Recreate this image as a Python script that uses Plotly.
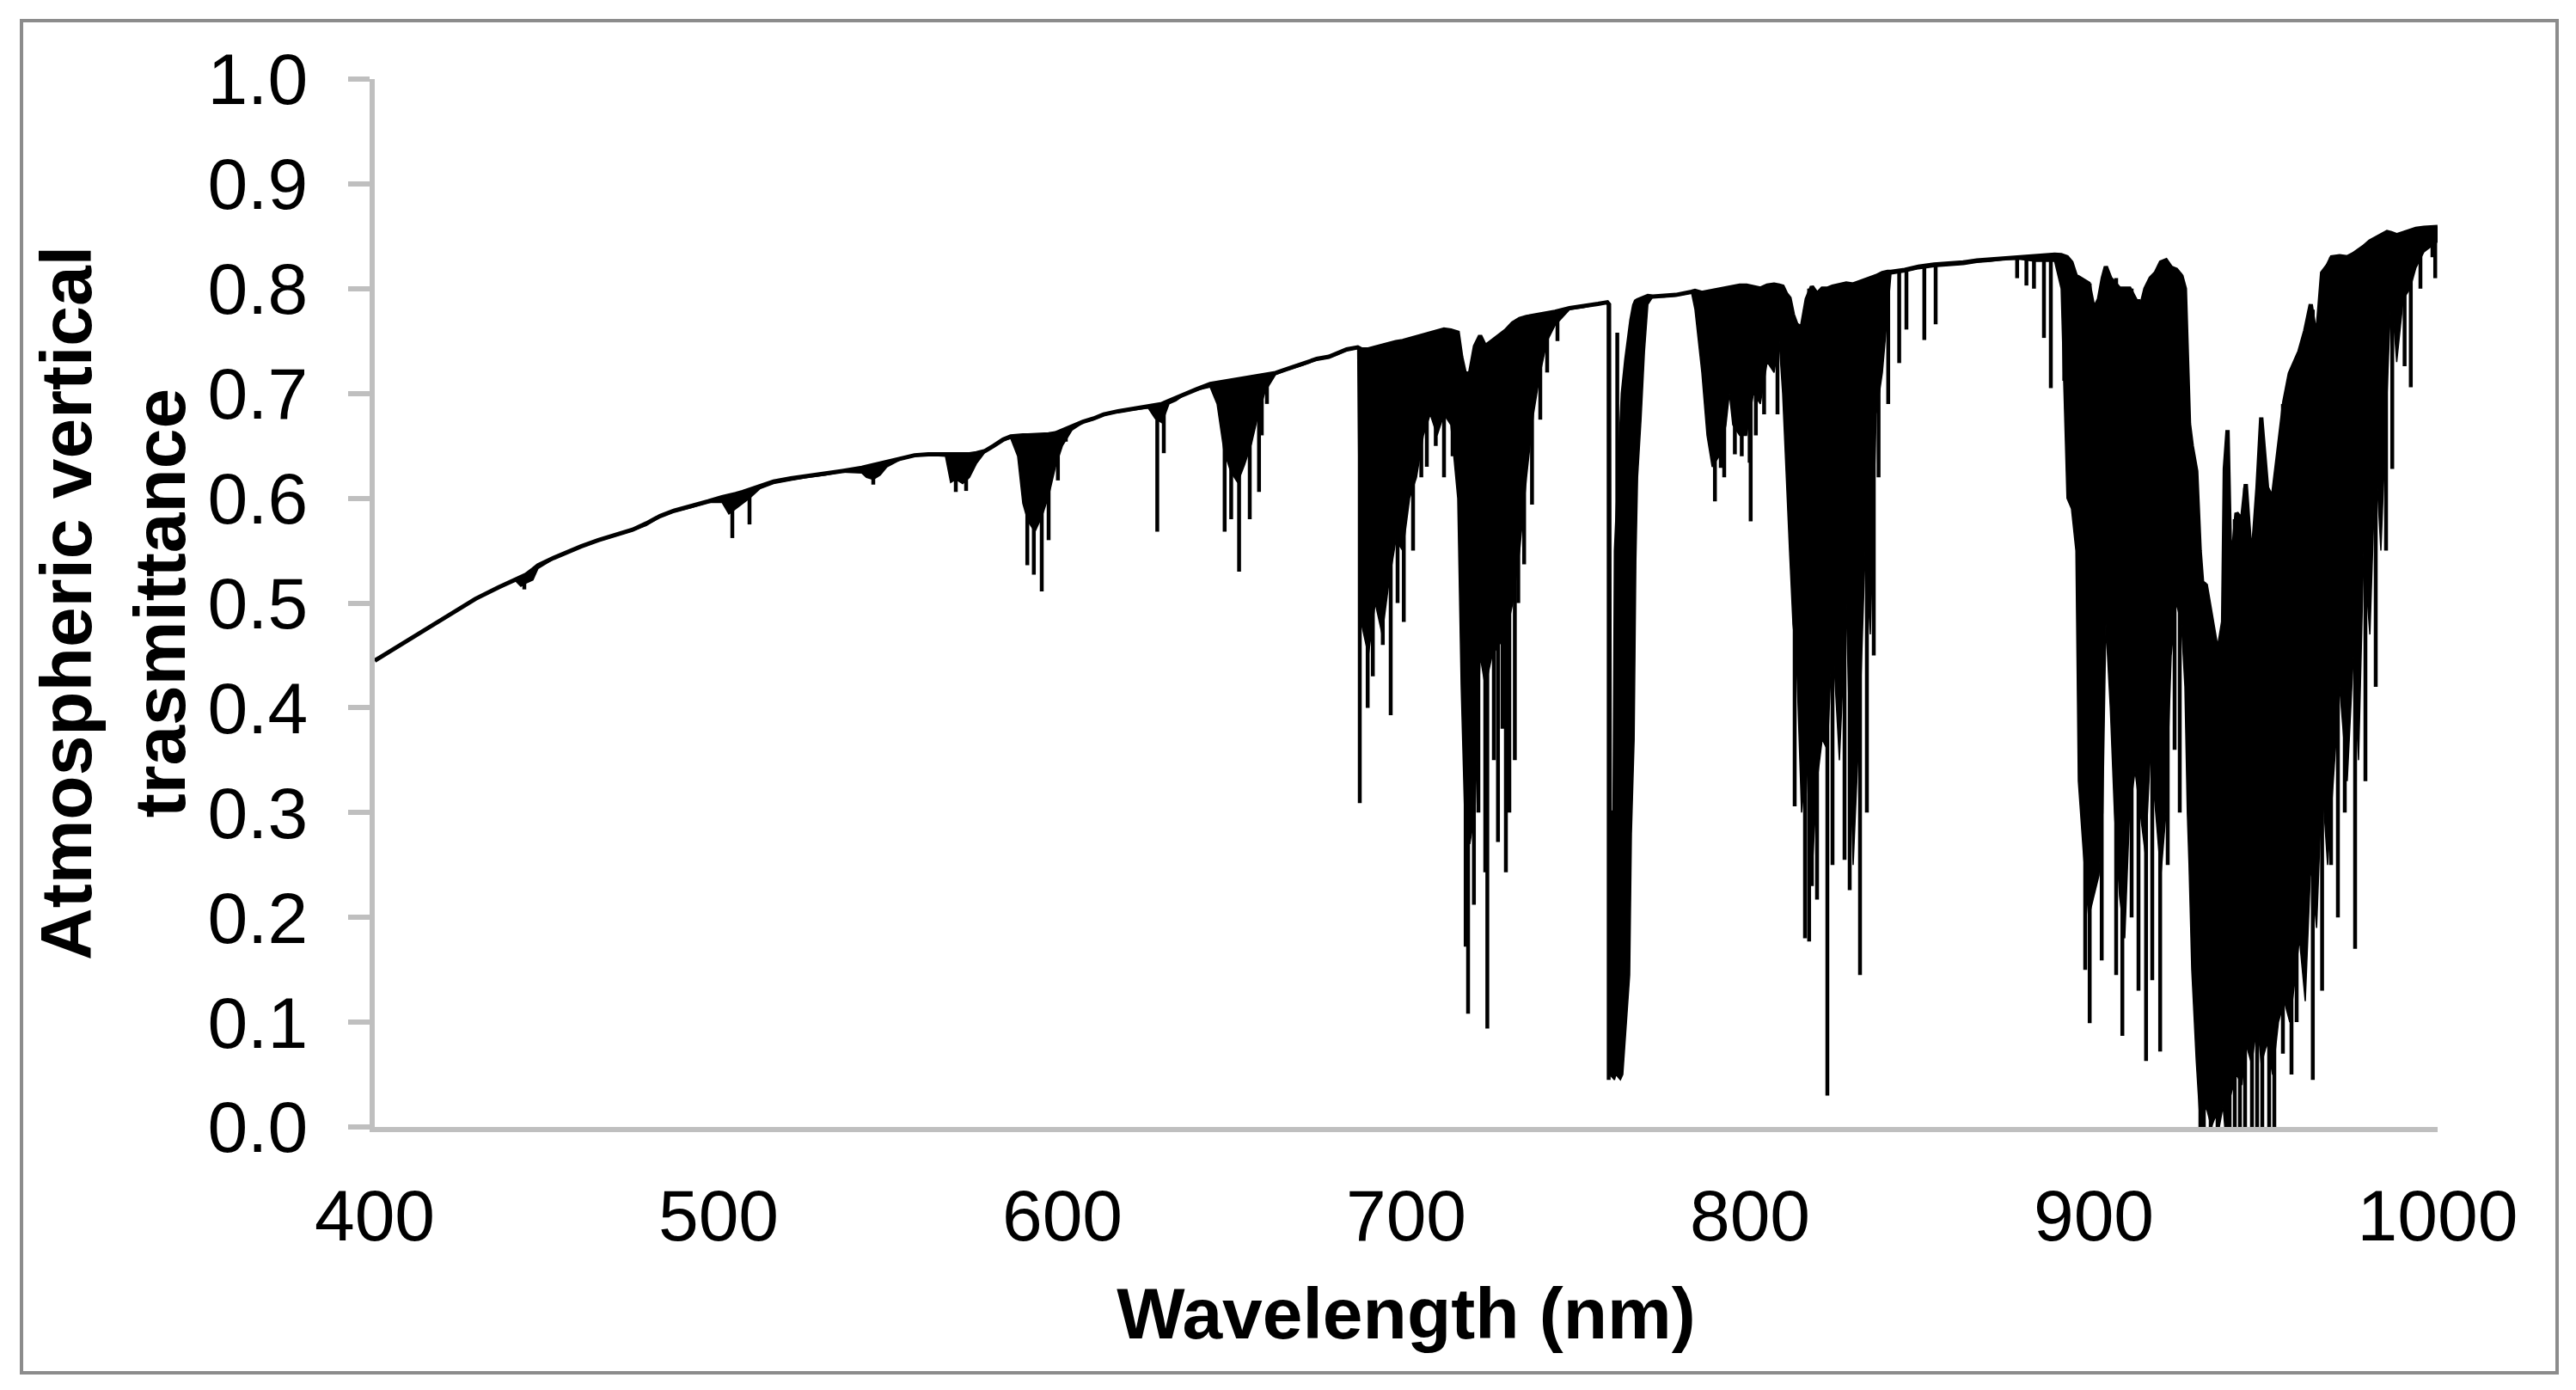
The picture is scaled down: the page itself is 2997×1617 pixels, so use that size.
import plotly.graph_objects as go

# ---------------- data ----------------
# wavelength grid (nm), upper edge of the spectrum, lower edge of the dense (solid) absorption core
wavelength = [400, 405, 410, 416.5, 423, 429.3, 436, 441, 442.5, 444, 446, 447.5, 452, 456, 460, 465, 470, 475,
              479, 483, 487, 492, 497, 501, 503, 505, 507, 509, 512, 516, 521, 526, 531, 536, 541.7, 543, 545, 547,
              549, 553, 557, 561, 566, 567.5, 569, 571, 573, 575, 577.5, 580, 582.8, 585, 587, 588.5, 590, 592, 594,
              596, 598, 600, 602.8, 606, 609, 612, 616.2, 620, 625, 627, 629, 631, 633, 635.2, 639, 643, 645, 647,
              649, 651, 653, 655, 657, 659, 662, 666, 670, 674, 677.5, 680, 682.7, 685.9, 686.3, 687, 689, 691, 693,
              695, 697, 699, 701, 703, 705, 707, 709, 711, 713, 715, 716, 717, 718.5, 720, 721.5, 723, 725, 727, 729,
              731, 733, 735, 737, 739, 741, 743.3, 747.5, 751.6, 755.8, 758.5, 759.0, 759.2, 760.6, 761.0, 762.3,
              763.0, 764.0, 765.0, 765.5, 766.3, 766.8, 767.3, 768.3, 769.3, 770.3, 771.7, 775, 778.4, 783, 784, 786,
              787.5, 789, 791, 793, 794, 795, 797, 799, 801, 803, 805, 807, 808.5, 809.5, 810.5, 811.5, 812.5, 813.5,
              815, 816.5, 818, 819.5, 821, 822.5, 824, 826, 828, 830, 832, 833.5, 835, 836.7, 838.5, 840, 841, 845,
              849, 853.5, 858, 862, 866, 870, 874.5, 878.7, 883, 888.6, 890.5, 892.2, 893.5, 894.8, 895.5, 897,
              898.5, 900, 901.5, 902.6, 903.5, 904.8, 906, 907.5, 909, 910.4, 912, 913.5, 915, 916.5, 918, 919.5,
              921, 922.5, 924, 925.5, 926.5, 927.2, 927.7, 928.5, 929.8, 930.8, 931.5, 932.6, 934.2, 935.4, 936.5,
              937.6, 938.1, 938.9, 939.8, 941.5, 943.1, 944.2, 945.9, 947.6, 948.7, 950.4, 952, 953.7, 955.4, 957,
              958.5, 959.8, 961.5, 963.1, 964.8, 966.4, 968, 969.2, 971.5, 973.7, 975.5, 977, 978.5, 980.3, 982,
              983.5, 985.3, 986.5, 988.1, 990, 992, 993.7, 996, 998, 1000]

upper = [.445, .455, .466, .479, .492, .504, .515, .522, .525, .527, .532, .536, .543, .549, .554, .560, .565, .570,
         .576, .583, .588, .592, .597, .601, .602, .604, .606, .608, .612, .616, .619, .621, .623, .626, .629, .630,
         .631, .633, .634, .638, .641, .642, .642, .641, .641, .641, .642, .643, .645, .650, .656, .659, .660, .660,
         .660, .660, .660, .661, .662, .665, .669, .673, .676, .680, .683, .685, .687, .688, .690, .693, .696, .699,
         .704, .709, .710, .711, .712, .713, .714, .715, .716, .717, .7195, .724, .728, .733, .735, .738, .742, .744,
         .743, .742, .742, .744, .746, .748, .749, .750, .752, .753, .755, .757, .759, .761, .760, .758, .735, .720,
         .718, .745, .755, .745, .750, .755, .760, .767, .771, .773, .774, .776, .777, .778, .7815, .783, .7855,
         .787, .785, .300, .300, .550, .660, .700, .732, .760, .770, .784, .788, .789, .790, .792, .793, .7925,
         .793, .794, .797, .798, .796, .797, .798, .800, .801, .802, .802, .803, .803, .801, .800, .803, .804, .803,
         .802, .795, .791, .775, .766, .762, .790, .802, .795, .800, .800, .802, .803, .805, .804, .806, .808, .810,
         .812, .815, .816, .816, .818, .821, .823, .824, .825, .827, .828, .830, .831, .832, .8325, .832, .830,
         .825, .812, .811, .808, .805, .780, .790, .810, .821, .810, .805, .800, .800, .800, .790, .780, .800, .810,
         .815, .825, .827, .820, .818, .812, .800, .720, .671, .650, .626, .550, .520, .517, .484, .463, .460,
         .482, .628, .665, .520, .586, .579, .6135, .532, .610, .677, .610, .599, .644, .692, .719, .730, .740,
         .760, .785, .749, .815, .822, .830, .831, .830, .833, .836, .840, .845, .848, .851, .854, .853, .851,
         .853, .855, .857, .858, .859, .859]

core = [.445, .455, .466, .479, .492, .504, .515, .521, .516, .519, .522, .533, .542, .548, .553, .559, .564, .569,
        .574, .582, .587, .591, .596, .596, .585, .590, .595, .600, .609, .614, .617, .620, .622, .625, .624, .620,
        .618, .622, .630, .637, .640, .641, .640, .615, .618, .614, .620, .633, .644, .649, .655, .657, .640, .595,
        .578, .568, .582, .602, .630, .650, .665, .672, .675, .679, .682, .684, .686, .676, .672, .690, .693, .698,
        .703, .706, .690, .645, .625, .615, .632, .652, .680, .702, .718, .723, .727, .732, .734, .737, .741, .743,
        .600, .480, .450, .500, .470, .520, .560, .550, .600, .620, .660, .680, .660, .680, .670, .600, .420, .300,
        .270, .300, .450, .420, .450, .460, .470, .500, .550, .620, .680, .720, .750, .765, .780, .782, .785,
        .786, .785, .050, .045, .050, .045, .050, .100, .145, .280, .370, .540, .620, .675, .740, .785, .792,
        .792, .793, .796, .780, .720, .660, .630, .640, .670, .700, .670, .660, .660, .700, .690, .730, .720, .750,
        .700, .620, .550, .480, .450, .300, .350, .240, .330, .370, .360, .470, .350, .500, .250, .400, .550, .470,
        .680, .720, .780, .814, .816, .819, .821, .822, .823, .825, .826, .828, .828, .826, .826, .800, .600,
        .590, .550, .330, .260, .200, .220, .240, .300, .480, .400, .300, .220, .180, .300, .340, .300, .260, .360,
        .300, .240, .300, .450, .500, .480, .420, .300, .250, .150, .063, .010, .000, .020, .000, .010, .000,
        .020, .000, .000, .030, .050, .040, .080, .060, .100, .060, .080, .050, .100, .120, .100, .140, .180,
        .120, .250, .190, .330, .250, .310, .420, .330, .450, .350, .550, .470, .640, .550, .700, .800, .730,
        .790, .800, .820, .835, .840, .845]

# individual deep absorption lines: wavelength, top and bottom transmittance
spike_wl = [443.5, 504.0, 509.0, 545.0, 569.0, 572.0, 589.8, 591.7, 594.0, 596.0, 598.7, 601.0, 627.6, 629.5,
            647.2, 649.1, 651.4, 654.5, 657.2, 658.0, 659.5, 686.5, 688.8, 690.3, 693.2, 695.5, 697.5, 699.3,
            702.0, 704.4, 706.0, 708.6, 711.0, 713.5, 717.3, 718.0, 719.7, 721.0, 723.0, 723.6, 725.5, 726.7,
            728.0, 729.0, 730.0, 731.6, 732.6, 734.3, 736.6, 739.0, 741.0, 744.0, 758.9, 761.4, 789.8, 791.5,
            792.5, 795.6, 797.6, 799.9, 800.2, 801.7, 804.1, 808.0, 813.0, 816.0, 817.2, 818.0, 819.5, 822.5,
            824.0, 827.5, 829.0, 832.0, 834.0, 836.0, 837.4, 840.2, 843.4, 845.5, 850.7, 854.0, 877.7, 880.4,
            882.6, 885.5, 887.5, 891.4, 897.5, 898.8, 902.3, 906.5, 908.3, 911.0, 913.0, 915.2, 917.0, 919.3,
            921.5, 923.5, 925.0, 931.0, 932.0, 934.0, 936.0, 939.5, 941.0, 942.5, 944.0, 946.0, 947.5, 949.0,
            951.0, 952.5, 955.0, 957.5, 959.0, 963.7, 966.4, 969.0, 971.0, 973.0, 976.0, 979.0, 982.0, 985.0,
            986.8, 990.4, 992.2, 995.0, 998.5, 999.3]
spike_top = [.526, .603, .608, .631, .641, .641, .660, .660, .660, .661, .663, .667, .689, .691,
             .711, .712, .713, .715, .716, .716, .717, .743, .742, .743, .746, .748, .749, .750,
             .752, .754, .755, .758, .761, .760, .720, .718, .720, .750, .745, .745, .750, .755,
             .757, .760, .763, .769, .771, .772, .773, .776, .777, .778, .786, .758, .798, .800,
             .800, .802, .803, .803, .803, .801, .802, .804, .766, .780, .800, .802, .795, .800,
             .802, .805, .805, .806, .808, .811, .814, .816, .817, .818, .822, .823, .831, .831,
             .831, .832, .832, .832, .808, .805, .800, .810, .800, .800, .790, .800, .800, .820,
             .825, .820, .815, .520, .520, .480, .460, .520, .580, .580, .610, .530, .600, .650,
             .600, .600, .690, .720, .730, .780, .810, .830, .830, .830, .835, .842, .848, .853,
             .853, .853, .855, .858, .859, .859]
spike_bot = [.513, .562, .575, .613, .606, .607, .536, .527, .511, .560, .617, .654, .568, .643,
             .568, .580, .530, .580, .606, .660, .690, .309, .400, .430, .460, .393, .500, .482,
             .550, .620, .630, .650, .620, .640, .172, .108, .212, .300, .243, .094, .350, .272,
             .380, .243, .300, .350, .500, .537, .594, .675, .720, .750, .045, .100, .597, .629,
             .620, .642, .640, .634, .578, .660, .680, .680, .306, .180, .177, .230, .217, .030,
             .250, .255, .226, .145, .300, .450, .620, .690, .729, .761, .751, .766, .810, .803,
             .800, .753, .705, .712, .150, .099, .159, .145, .087, .200, .130, .063, .140, .072,
             .250, .360, .300, .000, .000, .000, .000, .000, .000, .000, .000, .000, .000, .000,
             .000, .000, .070, .050, .100, .045, .130, .250, .200, .300, .170, .330, .420, .550,
             .628, .726, .706, .800, .830, .810]

x_ticks = [400, 500, 600, 700, 800, 900, 1000]
y_ticks = [0.0, 0.1, 0.2, 0.3, 0.4, 0.5, 0.6, 0.7, 0.8, 0.9, 1.0]
x_title = "Wavelength (nm)"
y_title = "Atmospheric vertical<br>trasmittance"

# ---------------- figure ----------------
W, H = 2997, 1617
L, R, T, B = 436, 161, 92, 306
AXIS = "#BFBFBF"
FONT = "Liberation Sans, Arial, sans-serif"

sx, sy = [], []
for w, t, b in zip(spike_wl, spike_top, spike_bot):
    sx += [w, w, None]
    sy += [t, b, None]

fig = go.Figure()
fig.add_trace(go.Scatter(x=wavelength, y=upper, mode="lines",
                         line=dict(color="black", width=5), hoverinfo="skip", showlegend=False))
fig.add_trace(go.Scatter(x=wavelength, y=core, mode="lines", fill="tonexty", fillcolor="black",
                         line=dict(color="black", width=1.5), hoverinfo="skip", showlegend=False))
fig.add_trace(go.Scatter(x=sx, y=sy, mode="lines", connectgaps=False,
                         line=dict(color="black", width=4.5), hoverinfo="skip", showlegend=False))

pw = W - L - R
ph = H - T - B
def px_x(p):
    return (p - L) / pw
def px_y(p):
    return (H - B - p) / ph

fig.add_shape(type="rect", xref="paper", yref="paper",
              x0=px_x(25), x1=px_x(2975), y0=px_y(1597), y1=px_y(24),
              line=dict(color="#8C8C8C", width=4), fillcolor="rgba(0,0,0,0)", layer="below")

fig.update_layout(
    width=W, height=H,
    margin=dict(l=L, r=R, t=T, b=B, pad=0),
    paper_bgcolor="white", plot_bgcolor="white",
    font=dict(family=FONT, size=84, color="black"),
    showlegend=False,
    xaxis=dict(range=[400, 1000], tickvals=x_ticks, ticktext=[str(v) for v in x_ticks],
               showgrid=False, zeroline=False, showline=True, linecolor=AXIS, linewidth=6,
               ticks="", ticklabelstandoff=25,
               title=dict(text="<b>" + x_title + "</b>", font=dict(size=84), standoff=40)),
    yaxis=dict(range=[0, 1.0], tickvals=y_ticks, ticktext=["%.1f" % v for v in y_ticks],
               showgrid=False, zeroline=False, showline=True, linecolor=AXIS, linewidth=6,
               ticks="outside", ticklen=25, tickwidth=6, tickcolor=AXIS, ticklabelstandoff=30,
               title=dict(text="<b>" + y_title + "</b>", font=dict(size=84), standoff=0)),
)

fig.write_html("out.html", include_plotlyjs=True, config={"displayModeBar": False},
               post_script="document.body.style.margin='0';document.body.style.overflow='hidden';")
